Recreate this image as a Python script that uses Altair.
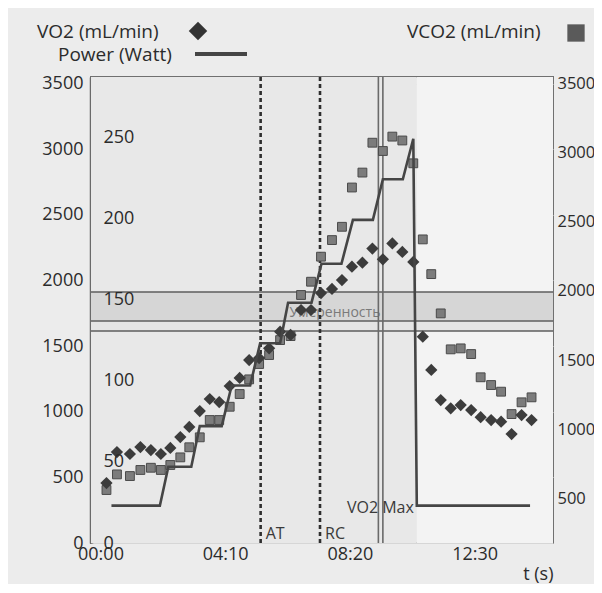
import altair as alt
import pandas as pd

# ---------------- data ----------------
t_s = [12, 33, 59, 80, 101, 121, 140, 160, 178, 199, 219, 238, 259, 279, 298,
       318, 338, 360, 381, 402, 422, 442, 464, 484, 504, 525, 545, 566, 585, 605,
       627, 646, 663, 682, 702, 722, 743, 762, 783, 803, 824, 844, 864]
vo2 = [457, 693, 678, 731, 708, 678, 724, 807, 884, 1005, 1097, 1074, 1196, 1257, 1394,
       1409, 1483, 1610, 1585, 1775, 1775, 1904, 1935, 2003, 2105, 2135, 2243, 2161, 2282, 2217,
       2141, 1572, 1318, 1089, 1026, 1051, 1013, 958, 937, 924, 830, 975, 937]
vco2 = [560, 673, 661, 705, 721, 705, 741, 796, 869, 941, 1066, 1066, 1162, 1254, 1360,
        1471, 1536, 1644, 1673, 1970, 2066, 2247, 2367, 2463, 2747, 2855, 3071, 3011, 3115, 3087,
        2922, 2372, 2121, 1837, 1577, 1584, 1543, 1375, 1319, 1271, 1109, 1194, 1230]
power_t = [22, 119, 136, 182, 199, 243, 263, 300, 320, 360, 376, 423, 443, 483, 506,
           546, 566, 606, 627, 634, 861]
power_w = [23, 23, 47, 47, 72, 72, 97, 97, 123, 123, 148, 148, 172, 172, 199,
           199, 224, 224, 249, 23, 23]

left_ticks = [0, 500, 1000, 1500, 2000, 2500, 3000, 3500]
right_ticks = [500, 1000, 1500, 2000, 2500, 3000, 3500]
power_ticks = [0, 50, 100, 150, 200, 250]
time_ticks = [0, 250, 500, 750]

marker_names = ["AT", "RC"]
marker_t = [321, 440]
marker_label_y = [68, 68]
vmax_t = [557, 566]
vmax_label = ["VO2 Max"]
vmax_label_t = [561]
vmax_label_y = [263]

band_lo = [1691, 1615]
band_hi = [1912, 1691]
band_fill = ["#d6d6d6", "#e4e4e4"]
band_lines = [1912, 1691, 1615]
band_text = ["Умеренность"]
band_text_t = [470]
band_text_y = [1752]

shade_start = [-19, 634]
shade_end = [634, 907]
shade_fill = ["#e8e8e8", "#f3f3f3"]

# ---------------- layout constants ----------------
W, H = 462, 466
X_DOMAIN = [-19, 907]
LEFT_DOMAIN = [0, 3550]
RIGHT_DOMAIN = [177, 3546]
POWER_DOMAIN = [0, 287]
FONT = "Open Sans"
FS = 18
LFS = 19
DARK = "#2b2b2b"

main = pd.DataFrame({"t": t_s, "vo2": vo2, "vco2": vco2})
pw = pd.DataFrame({"t": power_t, "w": power_w, "i": list(range(len(power_t)))})


def X(field="t"):
    return alt.X(
        f"{field}:Q",
        scale=alt.Scale(domain=X_DOMAIN, nice=False, zero=False),
        axis=alt.Axis(
            values=time_ticks,
            labelExpr="utcFormat(datum.value * 1000, '%M:%S')",
            title="t (s)", titleAnchor="end", titleFont=FONT, titleFontSize=FS,
            titleFontWeight="normal", titleColor=DARK, titlePadding=2,
            labelFont=FONT, labelFontSize=FS, labelColor=DARK, labelPadding=2,
            labelFlush=False, domain=False, ticks=False, tickSize=0,
            grid=True, gridColor="#d6d6d6", gridWidth=1,
        ),
    )


LEFT_SCALE = alt.Scale(domain=LEFT_DOMAIN, nice=False, zero=False)

# ---- layer A: VO2 scale (left axis) background, band, reference lines ----
shade = alt.Chart(pd.DataFrame({"s": shade_start, "e": shade_end, "c": shade_fill})).mark_rect().encode(
    x=X("s"), x2="e:Q", y=alt.value(0), y2=alt.value(H), color=alt.Color("c:N", scale=None)
)
band = alt.Chart(pd.DataFrame({"lo": band_lo, "hi": band_hi, "c": band_fill})).mark_rect().encode(
    x=alt.value(0), x2=alt.value(W),
    y=alt.Y("hi:Q", scale=LEFT_SCALE,
            axis=alt.Axis(orient="left", values=left_ticks, title=None, format="d",
                          labelFont=FONT, labelFontSize=FS, labelColor=DARK, labelPadding=8,
                          domain=True, domainWidth=3.5, domainColor="#6a6a6a",
                          ticks=False, tickSize=0, grid=True, gridColor="#d6d6d6")),
    y2="lo:Q", color=alt.Color("c:N", scale=None)
)
band_rules = alt.Chart(pd.DataFrame({"y": band_lines})).mark_rule(color="#5e5e5e", strokeWidth=1.6).encode(
    y=alt.Y("y:Q", scale=LEFT_SCALE)
)
band_label = alt.Chart(pd.DataFrame({"txt": band_text, "t": band_text_t, "y": band_text_y})).mark_text(
    font=FONT, fontSize=14, color="#7a7a7a", align="center", baseline="middle"
).encode(x=X(), y=alt.Y("y:Q", scale=LEFT_SCALE), text="txt:N")
dotted = alt.Chart(pd.DataFrame({"t": marker_t})).mark_rule(
    color="#2e2e2e", strokeWidth=2.6, strokeDash=[4, 3]
).encode(x=X())
vmax_rules = alt.Chart(pd.DataFrame({"t": vmax_t})).mark_rule(color="#6a6a6a", strokeWidth=1.6).encode(x=X())
marker_labels = alt.Chart(pd.DataFrame({"txt": marker_names, "t": marker_t, "y": marker_label_y})).mark_text(
    font=FONT, fontSize=16, color="#3a3a3a", align="left", baseline="middle", dx=5
).encode(x=X(), y=alt.Y("y:Q", scale=LEFT_SCALE), text="txt:N")
vmax_text = alt.Chart(pd.DataFrame({"txt": vmax_label, "t": vmax_label_t, "y": vmax_label_y})).mark_text(
    font=FONT, fontSize=16, color="#3a3a3a", align="center", baseline="middle"
).encode(x=X(), y=alt.Y("y:Q", scale=LEFT_SCALE), text="txt:N")

layer_a = alt.layer(shade, band, band_rules, band_label, dotted, vmax_rules, marker_labels, vmax_text)

# ---- layer B: VCO2 squares (right axis) ----
squares = alt.Chart(main).mark_point(
    shape="square", filled=True, size=78, color="#7c7c7c", stroke="#4a4a4a", strokeWidth=1, opacity=1
).encode(
    x=X(),
    y=alt.Y("vco2:Q", scale=alt.Scale(domain=RIGHT_DOMAIN, nice=False, zero=False),
            axis=alt.Axis(orient="right", values=right_ticks, title=None, format="d",
                          labelFont=FONT, labelFontSize=16.5, labelColor=DARK, labelPadding=4,
                          domain=False, ticks=False, tickSize=0, grid=False)),
)

# ---- layer A2: VO2 diamonds (same left scale, no axis) ----
diamonds = alt.Chart(main).mark_point(
    shape="diamond", filled=True, size=150, color="#3c3c3c", opacity=1
).encode(
    x=X(),
    y=alt.Y("vo2:Q", scale=LEFT_SCALE, axis=None),
)

# ---- layer C: power line (inner left axis, drawn above marks) ----
power = alt.Chart(pw).mark_line(color="#454545", strokeWidth=2.6).encode(
    x=X(),
    y=alt.Y("w:Q", scale=alt.Scale(domain=POWER_DOMAIN, nice=False, zero=False),
            axis=alt.Axis(orient="left", values=power_ticks, title=None, offset=-12, format="d",
                          labelAlign="left", labelFont=FONT, labelFontSize=FS, labelColor=DARK,
                          labelPadding=0, domain=False, ticks=False, tickSize=0, grid=False,
                          zindex=2)),
    order="i:Q",
)

# ---- legend (drawn above the plot) ----
one = pd.DataFrame({"k": [0]})
leg_vo2_t = alt.Chart(one).mark_text(text="VO2 (mL/min)", font=FONT, fontSize=LFS, color=DARK,
                                     align="left", baseline="middle").encode(x=alt.value(-54), y=alt.value(-45))
leg_vo2_m = alt.Chart(one).mark_point(shape="diamond", filled=True, size=340, color="#333333", opacity=1).encode(
    x=alt.value(107), y=alt.value(-46))
leg_pw_t = alt.Chart(one).mark_text(text="Power (Watt)", font=FONT, fontSize=LFS, color=DARK,
                                    align="left", baseline="middle").encode(x=alt.value(-33), y=alt.value(-22))
leg_pw_m = alt.Chart(one).mark_rule(color="#454545", strokeWidth=4).encode(
    x=alt.value(104), x2=alt.value(156), y=alt.value(-23))
leg_vco2_t = alt.Chart(one).mark_text(text="VCO2 (mL/min)", font=FONT, fontSize=LFS, color=DARK,
                                      align="left", baseline="middle").encode(x=alt.value(316), y=alt.value(-45))
leg_vco2_m = alt.Chart(one).mark_point(shape="square", filled=True, size=300, color="#5a5a5a", opacity=1).encode(
    x=alt.value(485), y=alt.value(-44))

chart = alt.layer(
    layer_a, squares, diamonds, power,
    leg_vo2_t, leg_vo2_m, leg_pw_t, leg_pw_m, leg_vco2_t, leg_vco2_m,
).resolve_scale(y="independent").properties(
    width=W, height=H,
    autosize=alt.AutoSizeParams(type="none"),
    padding={"left": 83, "top": 69, "right": 41, "bottom": 41},
    background="#ececec",
).configure_view(stroke="#707070", strokeWidth=2)

chart.save("out.html", embed_options={"renderer": "svg", "actions": False})
